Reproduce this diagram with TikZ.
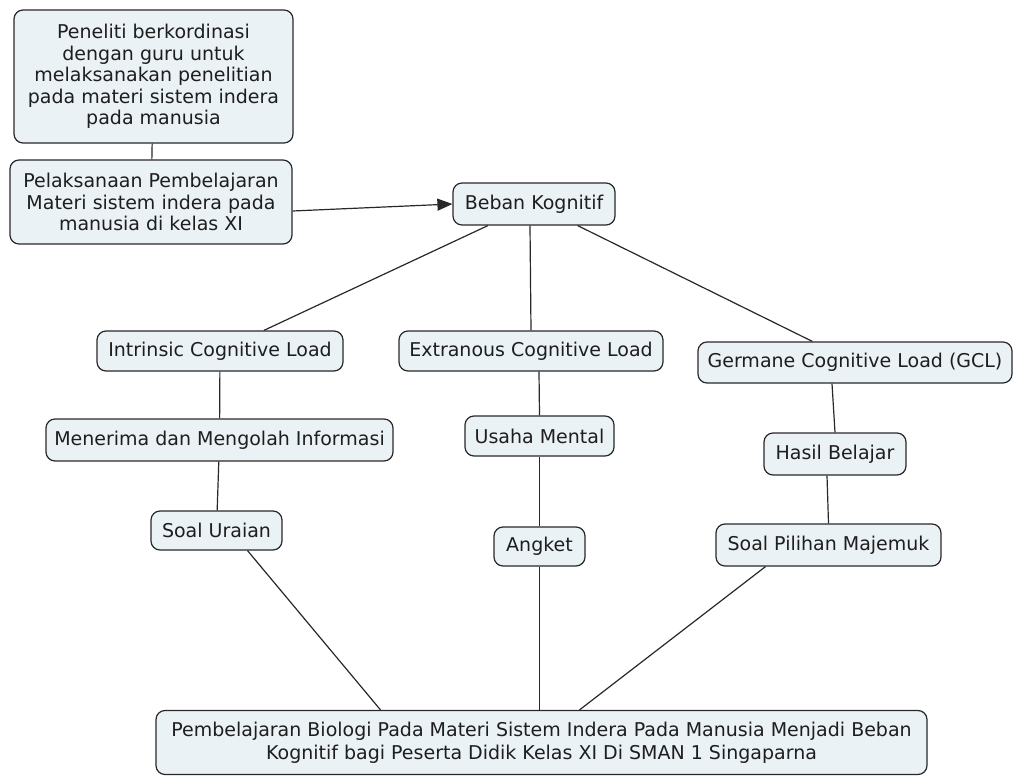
\documentclass[tikz,border=0pt]{standalone}
\usepackage{fontspec}
\setmainfont{DejaVu Sans}
\usetikzlibrary{positioning, arrows.meta}
\definecolor{cmFill}{RGB}{235,242,245}
\definecolor{cmLine}{RGB}{40,40,40}
\definecolor{cmText}{RGB}{30,30,30}
\tikzset{
    concept/.style={
        rectangle,
        rounded corners=9pt,
        draw=cmLine,
        line width=1.2pt,
        fill=cmFill,
        text=cmText,
        align=center,
        inner sep=0pt,
        font=\fontsize{19}{21.5}\selectfont
    },
    link/.style={
        draw=cmLine,
        line width=1.2pt
    },
    flow/.style={
        link,
        -{Triangle[length=15pt,width=12pt]}
    }
}

\begin{document}
\begin{tikzpicture}[x=1pt, y=-1pt]
  \useasboundingbox (0,0) rectangle (1013,776);

  % Top column
  \node[concept, minimum width=279, minimum height=133] (koord) at (153.5,76.5)
    {Peneliti berkordinasi\\dengan guru untuk\\melaksanakan penelitian\\pada materi sistem indera\\pada manusia};
  \node[concept, minimum width=282, minimum height=84] (pelaksanaan) at (151,202)
    {Pelaksanaan Pembelajaran\\Materi sistem indera pada\\manusia di kelas XI};
  \node[concept, minimum width=162, minimum height=42] (beban) at (534,204) {Beban Kognitif};

  % Three kinds of load
  \node[concept, minimum width=246, minimum height=40] (intrinsic) at (220,351) {Intrinsic Cognitive Load};
  \node[concept, minimum width=264, minimum height=40] (extranous) at (531,351) {Extranous Cognitive Load};
  \node[concept, minimum width=314, minimum height=41] (germane) at (855,362.5) {Germane Cognitive Load (GCL)};

  \node[concept, minimum width=347, minimum height=42] (menerima) at (219.5,440) {Menerima dan Mengolah Informasi};
  \node[concept, minimum width=149, minimum height=40] (usaha) at (539.5,436) {Usaha Mental};
  \node[concept, minimum width=142, minimum height=42] (hasil) at (835,454) {Hasil Belajar};

  \node[concept, minimum width=131, minimum height=39] (uraian) at (216.5,530.5) {Soal Uraian};
  \node[concept, minimum width=91, minimum height=39] (angket) at (539.5,546.5) {Angket};
  \node[concept, minimum width=225, minimum height=42] (pilihan) at (828.5,545) {Soal Pilihan Majemuk};

  % Conclusion
  \node[concept, minimum width=771, minimum height=64, font=\fontsize{19}{23}\selectfont] (hasilakhir) at (541.5,742.5)
    {Pembelajaran Biologi Pada Materi Sistem Indera Pada Manusia Menjadi Beban\\Kognitif bagi Peserta Didik Kelas XI Di SMAN 1 Singaparna};

  % Links
  \draw[link] (koord) -- (pelaksanaan);
  \draw[flow] ([yshift=-9pt]pelaksanaan.east) -- (beban.west);
  \draw[link] (beban) -- (intrinsic);
  \draw[link] ([xshift=-4pt]beban.south) -- (extranous.north);
  \draw[link] (beban) -- (germane);

  \draw[link] (intrinsic) -- (menerima);
  \draw[link] (menerima) -- (uraian);
  \draw[link] ([xshift=8pt]extranous.south) -- (usaha.north);
  \draw[link] (usaha) -- (angket);
  \draw[link] ([xshift=-23pt]germane.south) -- (hasil.north);
  \draw[link] ([xshift=-8pt]hasil.south) -- (pilihan.north);

  \draw[link] ([xshift=31pt]uraian.south) -- ([xshift=-161pt]hasilakhir.north);
  \draw[link] (angket.south) -- (angket.south |- hasilakhir.north);
  \draw[link] ([xshift=-63pt]pilihan.south) -- ([xshift=38pt]hasilakhir.north);
\end{tikzpicture}
\end{document}
